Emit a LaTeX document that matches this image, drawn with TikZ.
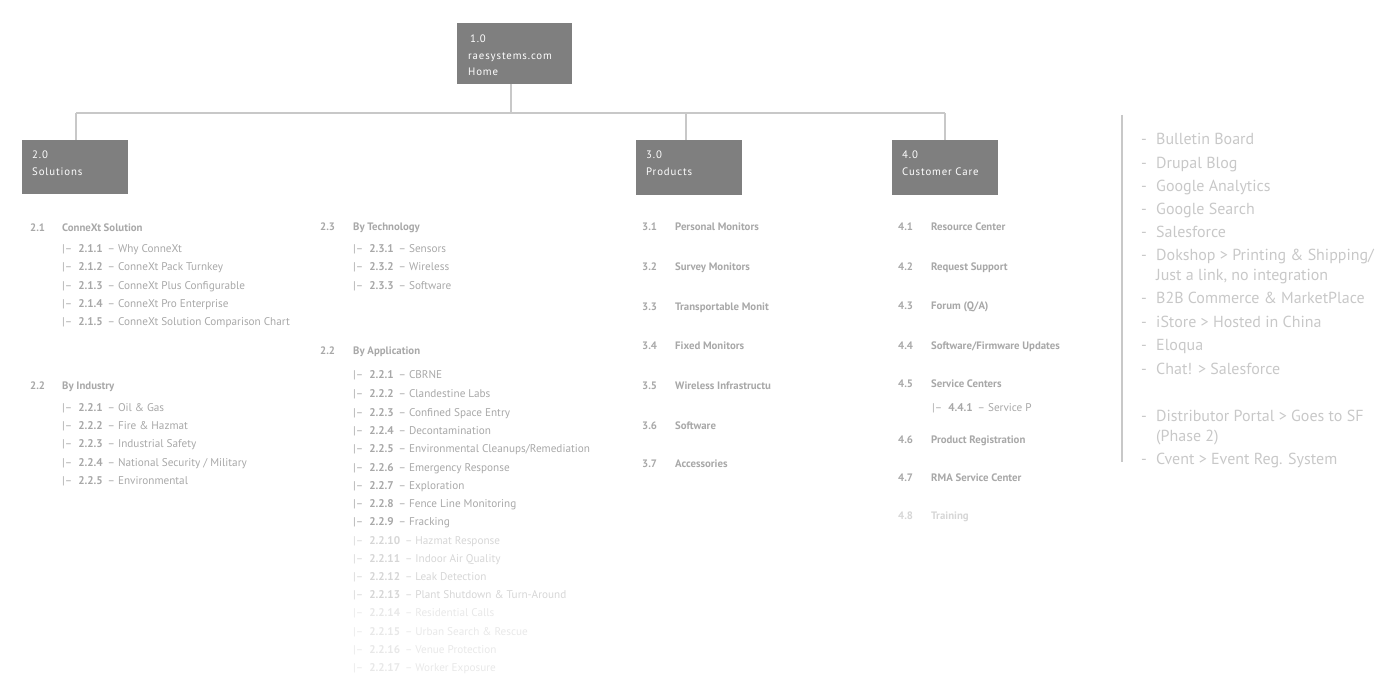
\documentclass[tikz,border=0pt]{standalone}
\usepackage{fontspec}
\setmainfont{PT Sans}
\definecolor{boxg}{HTML}{7F7F7F}
\definecolor{lineg}{HTML}{C8C8C8}
\definecolor{txt}{HTML}{A8A8A8}
\definecolor{txtl}{HTML}{D6D6D6}
\definecolor{txtxl}{HTML}{E8E8E8}
\begin{document}
\begin{tikzpicture}[x=1pt,y=-1pt,
  hbox/.style={text=white,font=\fontsize{10.8}{16.5}\selectfont\addfontfeature{LetterSpace=8},align=left,anchor=north west,inner sep=0pt,text width=#1},
  lnk/.style={draw=lineg,line width=1.2pt},
  it/.style={anchor=base west,inner sep=0pt,text=txt,font=\fontsize{10.8}{12}\selectfont\bfseries},
  sub/.style={anchor=base west,inner sep=0pt,text=txt,font=\fontsize{11.2}{12}\selectfont},
  rl/.style={anchor=base west,inner sep=0pt,text=lineg,font=\fontsize{16}{20}\selectfont,align=left}]
\useasboundingbox (0,0) rectangle (1400,700);
% header boxes
\fill[boxg] (457,23) rectangle (572,84);
\node[hbox=100pt] (h1) at (468,35) {\,1.0\\raesystems.com\\Home};
\fill[boxg] (22,140) rectangle (128,194);
\node[hbox=90pt] (h2) at (32,151) {2.0\\Solutions};
\fill[boxg] (636,140) rectangle (742,195);
\node[hbox=90pt] (h3) at (646,151) {3.0\\Products};
\fill[boxg] (892,140) rectangle (998,195);
\node[hbox=90pt] (h4) at (902,151) {4.0\\Customer Care};
\coordinate (top) at (511,84);
\coordinate (mid) at (511,113);
\coordinate (a) at (76,113); \coordinate (b) at (686,113); \coordinate (c) at (945,113);
\draw[lnk] (top) -- (mid);
\draw[lnk] (a) -- (c);
\draw[lnk] (a) -- (76,140);
\draw[lnk] (b) -- (686,140);
\draw[lnk] (c) -- (945,140);
\begin{scope}[yshift=-4pt]
% column 1
\node[it] (n21) at (30,228) {2.1}; \node[it] (t21) at (62,228) {ConneXt Solution};
\foreach \y/\n/\t [count=\i] in {249/2.1.1/Why ConneXt,267/2.1.2/ConneXt Pack Turnkey,286/2.1.3/ConneXt Plus Configurable,304/2.1.4/ConneXt Pro Enterprise,322/2.1.5/ConneXt Solution Comparison Chart}{
  \node[sub] (s1\i) at (62,\y) {|–\hspace{6pt}\textbf{\n}\, – \t};}
\node[it] (n22a) at (30,385) {2.2}; \node[it] (t22a) at (62,385) {By Industry};
\foreach \y/\n/\t [count=\i] in {407/2.2.1/Oil \& Gas,425/2.2.2/Fire \& Hazmat,443/2.2.3/Industrial Safety,462/2.2.4/{National Security / Military},480/2.2.5/Environmental}{
  \node[sub] (s2\i) at (62,\y) {|–\hspace{6pt}\textbf{\n}\, – \t};}
% column 2
\node[it] (n23) at (320,227) {2.3}; \node[it] (t23) at (353,227) {By Technology};
\foreach \y/\n/\t [count=\i] in {249/2.3.1/Sensors,267/2.3.2/Wireless,286/2.3.3/Software}{
  \node[sub] (s3\i) at (353,\y) {|–\hspace{6pt}\textbf{\n}\, – \t};}
\node[it] (n22b) at (320,351) {2.2}; \node[it] (t22b) at (353,351) {By Application};
\foreach \y/\n/\t/\c [count=\i] in {375/2.2.1/CBRNE/txt,394/2.2.2/Clandestine Labs/txt,412/2.2.3/Confined Space Entry/txt,430/2.2.4/Decontamination/txt,448/2.2.5/{Environmental Cleanups/Remediation}/txt,467/2.2.6/Emergency Response/txt,485/2.2.7/Exploration/txt,503/2.2.8/Fence Line Monitoring/txt,521/2.2.9/Fracking/txt,540/2.2.10/Hazmat Response/txtl,558/2.2.11/Indoor Air Quality/txtl,576/2.2.12/Leak Detection/txtl,594/2.2.13/Plant Shutdown \& Turn-Around/txtl,612/2.2.14/Residential Calls/txtxl,631/2.2.15/Urban Search \& Rescue/txtxl,649/2.2.16/Venue Protection/txtxl,667/2.2.17/Worker Exposure/txtxl}{
  \node[sub,text=\c] (s4\i) at (353,\y) {|–\hspace{6pt}\textbf{\n}\, – \t};}
% column 3
\foreach \y/\n/\t [count=\i] in {227/3.1/Personal Monitors,267/3.2/Survey Monitors,307/3.3/Transportable Monit,346/3.4/Fixed Monitors,386/3.5/Wireless Infrastructu,425/3.6/Software,463/3.7/Accessories}{
  \node[it] (p\i) at (642,\y) {\n}; \node[it] (q\i) at (675,\y) {\t};}
% column 4
\foreach \y/\n/\t/\c [count=\i] in {227/4.1/Resource Center/txt,267/4.2/Request Support/txt,306/4.3/{Forum (Q/A)}/txt,346/4.4/{Software/Firmware Updates}/txt,384/4.5/Service Centers/txt,439/4.6/Product Registration/txt,477/4.7/RMA Service Center/txt,515/4.8/Training/txtl}{
  \node[it,text=\c] (u\i) at (898,\y) {\n}; \node[it,text=\c] (v\i) at (931,\y) {\t};}
\node[sub] (u451) at (932,407) {|–\hspace{6pt}\textbf{4.4.1}\, – Service P};
\end{scope}
% right list
\draw[lnk] (1122,115) -- (1122,462);
\begin{scope}[yshift=-6pt]
\foreach \y/\t [count=\i] in {139/Bulletin Board,163/Drupal Blog,186/Google Analytics,209/Google Search,232/Salesforce,255/{Dokshop > Printing \& Shipping/},298/B2B Commerce \& MarketPlace,322/iStore > Hosted in China,345/Eloqua,368/Chat! > Salesforce,415/Distributor Portal > Goes to SF,458/Cvent > Event Reg. System}{
  \node[rl] (d\i) at (1141,\y) {-}; \node[rl] (r\i) at (1156,\y) {\t};}
\node[rl] (r6b) at (1156,275) {Just a link, no integration};
\node[rl] (r11b) at (1156,435) {(Phase 2)};
\end{scope}
\end{tikzpicture}
\end{document}
